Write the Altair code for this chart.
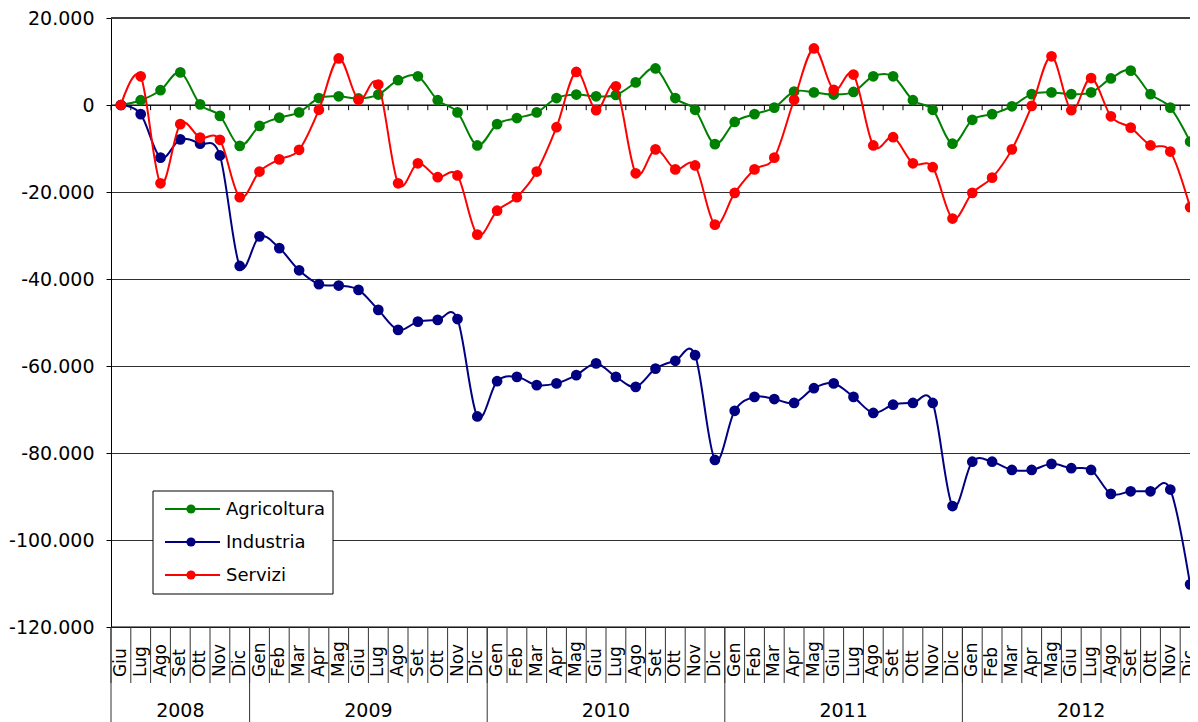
import altair as alt
import pandas as pd

# ---------------- data ----------------
months = ["Giu", "Lug", "Ago", "Set", "Ott", "Nov", "Dic"] + \
    ["Gen", "Feb", "Mar", "Apr", "Mag", "Giu", "Lug", "Ago", "Set", "Ott", "Nov", "Dic"] * 4
years = [2008] * 7 + [2009] * 12 + [2010] * 12 + [2011] * 12 + [2012] * 12

agricoltura = [0, 1100, 3400, 7500, 150, -2500, -9400,
               -4800, -2900, -1700, 1600, 2000, 1500, 2400, 5700, 6600, 1100, -1700, -9300,
               -4400, -3000, -1700, 1600, 2400, 2000, 2300, 5200, 8400, 1600, -1100, -9000,
               -3900, -2100, -600, 3100, 2900, 2400, 3000, 6600, 6600, 1100, -1100, -8900,
               -3400, -2100, -300, 2500, 2900, 2500, 2900, 6100, 7900, 2500, -600, -8400]
industria = [0, -2100, -12100, -7900, -8900, -11600, -37000,
             -30200, -32900, -38000, -41200, -41500, -42500, -47100, -51700, -49800, -49400, -49200, -71600,
             -63500, -62500, -64400, -64000, -62100, -59400, -62500, -64800, -60600, -58800, -57500, -81600,
             -70300, -67100, -67600, -68500, -65100, -64000, -67100, -70800, -68900, -68500, -68500, -92200,
             -82000, -82000, -83900, -83900, -82500, -83500, -83900, -89400, -88800, -88800, -88400, -110200]
servizi = [0, 6600, -18000, -4400, -7500, -8000, -21200,
           -15300, -12500, -10300, -1100, 10700, 1200, 4700, -18000, -13400, -16600, -16200, -29800,
           -24300, -21200, -15300, -5100, 7600, -1200, 4300, -15700, -10200, -14800, -13900, -27500,
           -20200, -14800, -12100, 1200, 13000, 3500, 7000, -9300, -7400, -13400, -14300, -26100,
           -20200, -16700, -10200, -200, 11200, -1200, 6200, -2600, -5200, -9300, -10700, -23500]

series_names = ["Agricoltura", "Industria", "Servizi"]
series_values = [agricoltura, industria, servizi]
series_colors = ["#008000", "#000080", "#FF0000"]

# ---------------- layout ----------------
FONT = "DejaVu Sans"
n = len(months)
W, H = 1079, 609          # visible plot area (the category axis runs past the right edge)
FULL_W = 1089             # full length of the category axis

xscale = alt.Scale(domain=[-0.5, n - 0.5], range=[0, FULL_W], nice=False, zero=False)
yscale = alt.Scale(domain=[-120000, 20000], nice=False, zero=False)

y_axis = alt.Axis(
    values=list(range(-120000, 20001, 20000)),
    labelExpr="(datum.value < 0 ? '-' : '') + replace(format(abs(datum.value), ','), ',', '.')",
    labelFont=FONT, labelFontSize=19, labelColor="black", labelPadding=12,
    tickSize=5, tickColor="black", tickWidth=1,
    domainColor="black", domainWidth=1,
    grid=True, gridColor="#303030", gridWidth=1,
    title=None,
)

rows = []
for name, vals in zip(series_names, series_values):
    for i, v in enumerate(vals):
        rows.append({"serie": name, "idx": i, "v": v})
df = pd.DataFrame(rows)

cat_df = pd.DataFrame({"idx": list(range(n)), "mese": months, "anno": years})
bounds_df = pd.DataFrame({"b": [i - 0.5 for i in range(n + 1)]})
year_groups = cat_df.groupby("anno")["idx"].agg(["min", "max"]).reset_index()
year_groups["centro"] = (year_groups["min"] + year_groups["max"]) / 2
year_groups["label"] = year_groups["anno"].astype(str)
year_bounds_df = pd.DataFrame({"b": [g - 0.5 for g in year_groups["min"]] + [n - 0.5]})
one = pd.DataFrame({"a": [0]})

layers = []

# y axis carrier (invisible) so grid is drawn below everything
layers.append(
    alt.Chart(df).mark_point(opacity=0).encode(
        x=alt.X("idx:Q", scale=xscale, axis=None),
        y=alt.Y("v:Q", scale=yscale, axis=y_axis),
    )
)

# top border
layers.append(alt.Chart(one).mark_rule(color="#404040", strokeWidth=2).encode(y=alt.datum(20000)))
# zero line (category axis)
layers.append(alt.Chart(one).mark_rule(color="black", strokeWidth=1).encode(y=alt.datum(0)))
# small ticks under zero line
layers.append(
    alt.Chart(bounds_df).mark_rule(color="black", strokeWidth=1).encode(
        x=alt.X("b:Q", scale=xscale, axis=None),
        y=alt.datum(0), y2=alt.datum(-1200),
    )
)
# bottom axis line
layers.append(alt.Chart(one).mark_rule(color="black", strokeWidth=1).encode(y=alt.datum(-120000)))

# month separators below plot
layers.append(
    alt.Chart(bounds_df).mark_rule(color="#333333", strokeWidth=1).encode(
        x=alt.X("b:Q", scale=xscale, axis=None),
        y=alt.value(H), y2=alt.value(H + 56),
    )
)
# year separators
layers.append(
    alt.Chart(year_bounds_df).mark_rule(color="#333333", strokeWidth=1).encode(
        x=alt.X("b:Q", scale=xscale, axis=None),
        y=alt.value(H), y2=alt.value(H + 110),
    )
)
# month labels
layers.append(
    alt.Chart(cat_df).mark_text(angle=270, align="left", baseline="middle",
                                font=FONT, fontSize=17, color="black").encode(
        x=alt.X("idx:Q", scale=xscale, axis=None),
        y=alt.value(H + 50),
        text="mese:N",
    )
)
# year labels
layers.append(
    alt.Chart(year_groups).mark_text(align="center", baseline="middle",
                                     font=FONT, fontSize=19, color="black").encode(
        x=alt.X("centro:Q", scale=xscale, axis=None),
        y=alt.value(H + 84),
        text="label:N",
    )
)

# series
for name, color in zip(series_names, series_colors):
    sdf = df[df["serie"] == name]
    base = alt.Chart(sdf).encode(
        x=alt.X("idx:Q", scale=xscale, axis=None),
        y=alt.Y("v:Q", scale=yscale, axis=y_axis),
    )
    layers.append(base.mark_line(interpolate="cardinal", strokeWidth=2, color=color))
    layers.append(base.mark_circle(size=115, opacity=1, color=color))

# legend
layers.append(
    alt.Chart(one).mark_rect(fill="white", stroke="black", strokeWidth=1).encode(
        x=alt.value(42), x2=alt.value(222), y=alt.value(473), y2=alt.value(576),
    )
)
for k, (name, color) in enumerate(zip(series_names, series_colors)):
    ly = 491 + 33 * k
    ldf = pd.DataFrame({"serie": [name]})
    layers.append(
        alt.Chart(ldf).mark_rule(color=color, strokeWidth=2).encode(
            x=alt.value(54), x2=alt.value(109), y=alt.value(ly), y2=alt.value(ly),
        )
    )
    layers.append(
        alt.Chart(ldf).mark_circle(color=color, size=85, opacity=1).encode(
            x=alt.value(80), y=alt.value(ly),
        )
    )
    layers.append(
        alt.Chart(ldf).mark_text(align="left", baseline="middle", font=FONT,
                                 fontSize=18, color="black").encode(
            x=alt.value(115), y=alt.value(ly + 1), text="serie:N",
        )
    )

chart = alt.layer(*layers).properties(
    width=W, height=H,
    padding={"left": 103, "top": 10, "right": 0, "bottom": 95},
    autosize=alt.AutoSizeParams(type="none"),
    background="white",
).configure_view(stroke=None)

chart.save("out.html", embed_options={"renderer": "svg", "actions": False})
